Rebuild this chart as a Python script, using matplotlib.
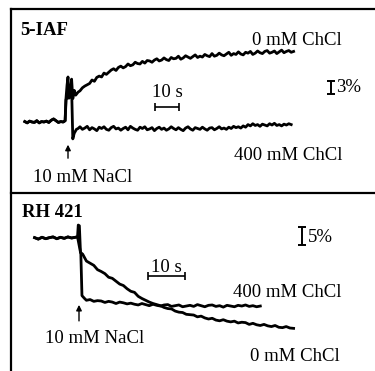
import matplotlib
matplotlib.use("Agg")
import matplotlib.pyplot as plt
from matplotlib.lines import Line2D

plt.rcParams['font.family'] = ['Liberation Serif', 'DejaVu Serif']

# ---- 5-IAF traces: time (s, NaCl added at 0) and fluorescence change (%) ----
iaf_base_t = [-18, -17, -16, -15, -14, -13, -12, -11, -10, -9, -8, -7, -6, -5, -4, -3, -2, -1.2]
iaf_base_v = [0.1, -0.2, 0.2, 0.0, -0.1, 0.3, -0.2, 0.1, 0.0, 0.2, -0.1, 0.4, 0.7, 0.3, -0.1, 0.1, 0.0, 0.3]

iaf0_t = [-0.9, -0.4, 0, 0.4, 0.9, 1.5, 2.0, 2.6, 3.2, 4.2] + list(range(5, 95))
iaf0_v = [5.0, 8.5, 10.4, 5.5, 6.2, 9.9, 5.4, 7.3, 6.2, 6.9,
          7.2, 7.9, 8.3, 8.6, 8.9, 9.7, 9.4, 10.3, 10.6, 10.4,
          11.3, 11.0, 11.5, 12.0, 12.3, 11.9, 12.6, 12.9, 12.5, 12.8,
          13.4, 13.0, 13.2, 13.8, 13.5, 13.4, 14.0, 13.6, 14.2, 14.1,
          13.8, 14.3, 14.6, 14.1, 14.3, 14.8, 14.4, 14.2, 14.9, 14.6,
          14.7, 15.2, 14.5, 14.8, 15.3, 15.0, 14.7, 15.1, 15.5, 14.9,
          15.2, 15.0, 15.6, 15.3, 15.1, 15.8, 15.2, 15.4, 15.9, 15.5,
          15.3, 15.7, 16.1, 15.4, 15.8, 15.6, 16.2, 15.7, 15.5, 16.1,
          15.9, 16.3, 15.6, 15.9, 16.4, 16.0, 15.8, 16.3, 16.5, 15.9,
          16.1, 16.4, 15.8, 16.2, 16.6, 16.0, 16.3, 16.5, 16.1, 16.3]

iaf400_t = [-0.8, 0.5, 1.6, 2.0, 2.6, 3.5, 4.2] + list(range(5, 94))
iaf400_v = [5.2, 6.0, 5.5, -3.9, -2.6, -1.7, -1.5,
            -1.1, -1.7, -1.4, -1.0, -1.8, -1.3, -1.6, -2.0, -1.2, -1.5,
            -1.1, -1.7, -1.9, -1.3, -1.0, -1.6, -1.4, -1.9, -1.5, -1.2,
            -1.8, -1.0, -1.4, -1.7, -1.9, -1.2, -1.5, -1.1, -1.8, -1.6,
            -1.3, -2.0, -1.5, -1.2, -1.7, -1.4, -1.9, -1.6, -1.1, -1.5,
            -1.8, -1.3, -1.7, -2.0, -1.4, -1.1, -1.6, -1.9, -1.3, -1.5,
            -1.7, -1.2, -1.6, -1.9, -1.4, -1.3, -1.8, -1.5, -1.1, -1.6,
            -1.4, -1.7, -1.2, -1.5, -1.0, -1.3, -1.1, -1.4, -0.9, -1.2,
            -0.6, -0.9, -0.4, -0.8, -0.6, -1.0, -0.5, -0.7, -0.9, -0.4,
            -0.7, -0.3, -0.8, -0.6, -0.9, -0.5, -0.7, -0.4, -0.6]

# ---- RH 421 traces ----
rh_base_t = [-12, -11, -10, -9, -8, -7, -6, -5, -4, -3, -2, -1, -0.4]
rh_base_v = [0.1, -0.3, 0.2, -0.2, 0.1, 0.3, -0.2, 0.2, -0.1, 0.3, 0.0, 0.2, 0.3]

rh0_t = [-0.2, 0.1, 0.4] + list(range(1, 59))
rh0_v = [3.6, 3.4, -4.0,
         -4.5, -6.4, -7.0, -7.6, -8.8, -9.3, -9.9, -10.9, -11.2, -12.0,
         -12.8, -13.2, -14.1, -14.8, -15.1, -16.2, -16.8, -17.3, -17.8, -18.2,
         -18.5, -18.8, -19.3, -19.6, -19.7, -20.3, -20.6, -20.7, -21.2, -21.3,
         -21.4, -21.9, -21.7, -22.2, -22.5, -22.3, -22.8, -23.0, -22.7, -23.1,
         -23.3, -23.1, -23.6, -23.4, -23.5, -24.0, -23.7, -24.1, -24.3, -24.0,
         -24.4, -24.6, -24.3, -24.8, -24.9, -24.6, -25.0, -25.1]

rh400_t = [0.5, 0.8, 1.5] + list(range(2, 50))
rh400_v = [-4.5, -16.0, -16.8,
           -17.3, -17.1, -17.6, -17.4, -17.5, -17.9, -17.6, -17.8, -18.2, -17.8,
           -18.0, -18.3, -18.1, -18.4, -18.6, -18.2, -18.5, -18.8, -18.4, -18.7,
           -18.9, -18.6, -18.5, -19.0, -18.8, -18.6, -19.1, -18.9, -18.7, -19.0,
           -18.5, -18.8, -19.1, -18.7, -18.6, -19.0, -18.8, -19.2, -18.7, -18.9,
           -19.1, -18.7, -18.9, -18.6, -19.0, -18.8, -19.1, -18.9]

W, H = 375, 371
fig = plt.figure(figsize=(W / 100, H / 100), dpi=100)
fig.patch.set_facecolor('white')


def fx(x):
    return x / W


def fy(y):
    return 1 - y / H


def panel(x0, y0, y1, t0px, pxs, v0px, pxv):
    # axes spanning a pixel box, scaled so t=0 / v=0 land at (t0px, v0px)
    ax = fig.add_axes([fx(x0), fy(y1), fx(W) - fx(x0), fy(y0) - fy(y1)])
    ax.set_xlim((x0 - t0px) / pxs, (W - t0px) / pxs)
    ax.set_ylim((v0px - y1) / pxv, (v0px - y0) / pxv)
    ax.axis('off')
    return ax


LW = 2.0
ax1 = panel(11, 9, 193, 68, 2.4, 122, 4.33)
ax1.plot(iaf_base_t + iaf0_t, iaf_base_v + iaf0_v, color='k', lw=LW)
ax1.plot(iaf_base_t + iaf400_t, iaf_base_v + iaf400_v, color='k', lw=LW)
ax1.annotate('', xy=(0, -4.6), xytext=(0, -9.0),
             arrowprops=dict(arrowstyle='-|>', color='k', lw=1.0, mutation_scale=8))
ax1.errorbar(41.25, 3.46, xerr=5, color='k', lw=1.2, capsize=3, capthick=1.2)
ax1.errorbar(109.6, 7.9, yerr=1.5, color='k', lw=1.4, capsize=3, capthick=1.4)

ax2 = panel(11, 193, 371, 79, 3.7, 238, 3.6)
ax2.plot(rh_base_t + rh0_t, rh_base_v + rh0_v, color='k', lw=LW)
ax2.plot(rh_base_t + rh400_t, rh_base_v + rh400_v, color='k', lw=LW)
ax2.annotate('', xy=(0, -17.8), xytext=(0, -23.8),
             arrowprops=dict(arrowstyle='-|>', color='k', lw=1.0, mutation_scale=8))
ax2.errorbar(23.6, -10.6, xerr=5, color='k', lw=1.2, capsize=3, capthick=1.2)
ax2.errorbar(60.3, 0.6, yerr=2.5, color='k', lw=1.4, capsize=3, capthick=1.4)

# frame lines
for xs, ys in [((11, 11), (9, 371)), ((11, 375), (9, 9)), ((11, 375), (193, 193))]:
    fig.add_artist(Line2D([fx(v) for v in xs], [fy(v) for v in ys],
                          color='k', lw=1.6, transform=fig.transFigure))

FS = 13.5
labels = [
    ('5-IAF', 20, 35, 'left', 'bold'),
    ('0 mM ChCl', 252, 45, 'left', 'normal'),
    ('400 mM ChCl', 234, 160, 'left', 'normal'),
    ('10 mM NaCl', 33, 182, 'left', 'normal'),
    ('10 s', 167, 97, 'center', 'normal'),
    ('3%', 336, 92, 'left', 'normal'),
    ('RH 421', 22, 217, 'left', 'bold'),
    ('5%', 308, 242, 'left', 'normal'),
    ('10 s', 166, 272, 'center', 'normal'),
    ('400 mM ChCl', 233, 297, 'left', 'normal'),
    ('10 mM NaCl', 45, 343, 'left', 'normal'),
    ('0 mM ChCl', 250, 361, 'left', 'normal'),
]
for s, x, y, ha, wt in labels:
    fig.text(fx(x), fy(y), s, ha=ha, va='baseline', fontsize=FS, fontweight=wt)

fig.savefig('out.png', dpi=100, facecolor='white')
